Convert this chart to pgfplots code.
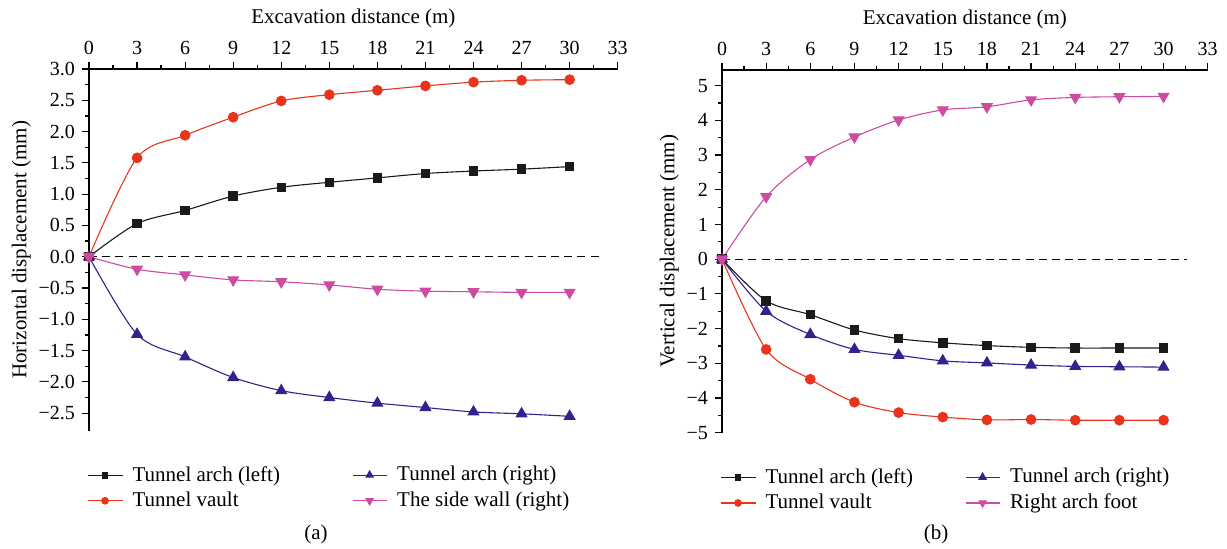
\documentclass[border=0pt]{standalone}
\usepackage{fontspec}
\setmainfont{Liberation Serif}
\usepackage{pgfplots}
\pgfplotsset{compat=1.18}
\definecolor{cblack}{HTML}{1A1A1A}
\definecolor{cred}{HTML}{E8341C}
\definecolor{cblue}{HTML}{32238C}
\definecolor{cmag}{HTML}{CC4CA0}
\pgfplotsset{
  myaxis/.style={
    scale only axis,
    axis x line=top, axis y line=left,
    axis line style={-, line width=0.7pt},
    tick align=outside,
    major tick length=3.5pt, minor tick length=2pt,
    tick style={line width=0.6pt, black},
    xmin=0, xmax=33,
    xtick={0,3,...,33},
    xticklabels={0,3,6,9,12,15,18,21,24,27,30,33},
    minor x tick num=1,
    minor y tick num=1,
    xlabel={Excavation distance (m)},
    tick label style={font=\fontsize{10}{12}\selectfont},
    label style={font=\fontsize{10.5}{12}\selectfont},
    ylabel style={yshift=-3pt},
    legend style={draw=none, fill=none, font=\fontsize{10.5}{12.5}\selectfont,
      legend columns=2, transpose legend,
      row sep=0pt, anchor=north west, xshift=-4pt,
      /tikz/every odd column/.append style={column sep=3pt}},
    legend image code/.code={%
      \draw[mark repeat=2,mark phase=2,##1, every mark/.append style={scale=0.68}]
        plot coordinates {(0cm,0cm) (0.3cm,0cm) (0.6cm,0cm)};},
    legend cell align=left,
    every axis plot/.append style={line width=0.55pt, smooth, tension=0.5},
    clip=false,
  }
}
\begin{document}
\begin{tikzpicture}
\path[use as bounding box] (0,0) rectangle (613.5pt,274pt);
% ---------- (a) ----------
\begin{axis}[myaxis,
  at={(44.5pt,58.65pt)}, anchor=south west,
  width=264.35pt, height=180.85pt,
  ymin=-2.78, ymax=3.0,
  ytick={-2.5,-2,-1.5,-1,-0.5,0,0.5,1,1.5,2,2.5,3},
  yticklabels={−2.5,−2.0,−1.5,−1.0,−0.5,0.0,0.5,1.0,1.5,2.0,2.5,3.0},
  ylabel={Horizontal displacement (mm)},
  legend style={at={(0.0,-0.075)},
    /tikz/every even column/.append style={column sep=34pt}},
]
\addplot[black, dashed, dash pattern=on 4pt off 2.6pt, line width=0.6pt, forget plot, sharp plot] coordinates {(0,0) (32,0)};
\addplot[cblack, mark=square*, mark size=2.1pt] coordinates {(0,0)(3,0.53)(6,0.74)(9,0.97)(12,1.11)(15,1.19)(18,1.26)(21,1.33)(24,1.37)(27,1.40)(30,1.44)};
\addlegendentry{Tunnel arch (left)}
\addplot[cred, mark=*, mark size=2.4pt] coordinates {(0,0)(3,1.58)(6,1.94)(9,2.23)(12,2.49)(15,2.59)(18,2.66)(21,2.73)(24,2.79)(27,2.82)(30,2.83)};
\addlegendentry{Tunnel vault}
\addplot[cblue, mark=triangle*, mark size=3pt] coordinates {(0,0)(3,-1.24)(6,-1.60)(9,-1.93)(12,-2.14)(15,-2.25)(18,-2.34)(21,-2.41)(24,-2.48)(27,-2.51)(30,-2.55)};
\addlegendentry{Tunnel arch (right)}
\addplot[cmag, mark=triangle*, mark size=3pt, mark options={rotate=180}] coordinates {(0,0)(3,-0.20)(6,-0.29)(9,-0.37)(12,-0.40)(15,-0.45)(18,-0.52)(21,-0.55)(24,-0.56)(27,-0.57)(30,-0.57)};
\addlegendentry{The side wall (right)}
\end{axis}
% ---------- (b) ----------
\begin{axis}[myaxis,
  at={(361pt,57.65pt)}, anchor=south west,
  width=242.85pt, height=181.35pt,
  ymin=-5, ymax=5.45,
  ytick={-5,-4,-3,-2,-1,0,1,2,3,4,5},
  yticklabels={−5,−4,−3,−2,−1,0,1,2,3,4,5},
  ylabel={Vertical displacement (mm)},
  legend style={at={(0.0,-0.075)},
    /tikz/every even column/.append style={column sep=24pt}},
]
\addplot[black, dashed, dash pattern=on 4pt off 2.6pt, line width=0.6pt, forget plot, sharp plot] coordinates {(0,0) (31.6,0)};
\addplot[cblack, mark=square*, mark size=2.1pt] coordinates {(0,0)(3,-1.20)(6,-1.60)(9,-2.04)(12,-2.29)(15,-2.41)(18,-2.49)(21,-2.54)(24,-2.56)(27,-2.56)(30,-2.56)};
\addlegendentry{Tunnel arch (left)}
\addplot[cred, mark=*, mark size=2.4pt] coordinates {(0,0)(3,-2.60)(6,-3.46)(9,-4.12)(12,-4.42)(15,-4.55)(18,-4.63)(21,-4.62)(24,-4.64)(27,-4.64)(30,-4.64)};
\addlegendentry{Tunnel vault}
\addplot[cblue, mark=triangle*, mark size=3pt] coordinates {(0,0)(3,-1.50)(6,-2.17)(9,-2.60)(12,-2.77)(15,-2.93)(18,-2.99)(21,-3.05)(24,-3.09)(27,-3.10)(30,-3.11)};
\addlegendentry{Tunnel arch (right)}
\addplot[cmag, mark=triangle*, mark size=3pt, mark options={rotate=180}] coordinates {(0,0)(3,1.80)(6,2.87)(9,3.52)(12,4.01)(15,4.30)(18,4.39)(21,4.59)(24,4.66)(27,4.68)(30,4.69)};
\addlegendentry{Right arch foot}
\end{axis}
\node[font=\fontsize{10.5}{12}\selectfont] at (158pt,7pt) {(a)};
\node[font=\fontsize{10.5}{12}\selectfont] at (468pt,7pt) {(b)};
\end{tikzpicture}
\end{document}
